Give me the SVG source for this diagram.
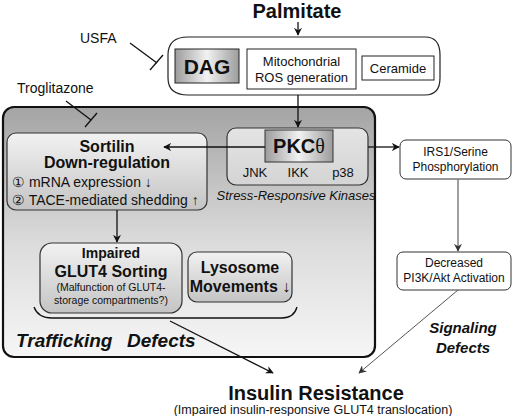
<svg xmlns="http://www.w3.org/2000/svg" width="520" height="416" viewBox="0 0 520 416">
<defs>
<linearGradient id="bigG" x1="0" y1="0" x2="0" y2="1"><stop offset="0" stop-color="#a4a4a4"/><stop offset="0.55" stop-color="#dcdcdc"/><stop offset="1" stop-color="#f6f6f6"/></linearGradient>
<linearGradient id="boxG" x1="0" y1="0" x2="0" y2="1"><stop offset="0" stop-color="#f2f2f2"/><stop offset="1" stop-color="#c4c4c4"/></linearGradient>
<linearGradient id="darkG" x1="0" y1="0" x2="1" y2="0"><stop offset="0" stop-color="#9c9c9c"/><stop offset="0.5" stop-color="#f2f2f2"/><stop offset="1" stop-color="#9c9c9c"/></linearGradient>
<linearGradient id="kinG" x1="0" y1="0" x2="0" y2="1"><stop offset="0" stop-color="#e4e4e4"/><stop offset="1" stop-color="#d4d4d4"/></linearGradient>
<marker id="ah" viewBox="0 0 10 10" refX="9" refY="5" markerWidth="8" markerHeight="8" orient="auto" markerUnits="userSpaceOnUse"><path d="M0,0 L10,5 L0,10 L3,5 z" fill="#111"/></marker>
<marker id="ahg" viewBox="0 0 10 10" refX="9" refY="5" markerWidth="8" markerHeight="8" orient="auto" markerUnits="userSpaceOnUse"><path d="M0,0 L10,5 L0,10 L3,5 z" fill="#333"/></marker>
</defs>
<style>
text{font-family:"Liberation Sans",Arial,sans-serif;fill:#111}
.b{font-weight:bold}
.bi{font-weight:bold;font-style:italic}
.s{font-size:13px}
.m{font-size:12px}
.ln{stroke:#111;stroke-width:1.3;fill:none}
.gl{stroke:#555;stroke-width:1;fill:none}
</style>
<rect width="520" height="416" fill="#fff"/>

<g id="palmitate"><text x="297" y="18" text-anchor="middle" class="b" font-size="20">Palmitate</text></g>

<g id="lipids">
<path d="M188,37 H425 Q440,37 440,55 V78 Q440,95 425,95 H188 Q168,95 168,78 V55 Q168,37 188,37 Z" fill="#fff" stroke="#222" stroke-width="1.2"/>
<g id="dag"><rect x="175" y="49" width="64" height="34" fill="url(#darkG)" stroke="#222" stroke-width="1"/><text x="207" y="74" text-anchor="middle" class="b" font-size="21">DAG</text></g>
<g id="ros"><rect x="247" y="49" width="109" height="40" fill="#fff" stroke="#222" stroke-width="1"/><text x="301.5" y="66" text-anchor="middle" class="s">Mitochondrial</text><text x="301.5" y="82" text-anchor="middle" class="s">ROS generation</text></g>
<g id="ceramide"><rect x="362" y="56" width="72" height="24" fill="#fff" stroke="#222" stroke-width="1"/><text x="398" y="73" text-anchor="middle" class="s">Ceramide</text></g>
</g>

<g id="usfa"><text x="80" y="43" font-size="14">USFA</text></g>
<g id="troglitazone"><text x="17" y="93" font-size="14">Troglitazone</text></g>

<g id="trafficking">
<rect x="3" y="107" width="372" height="250" rx="11" fill="url(#bigG)" stroke="#111" stroke-width="2.2"/>
<text y="347" class="bi" font-size="19"><tspan x="16">Trafficking</tspan><tspan x="127">Defects</tspan></text>
</g>

<g id="sortilin">
<rect x="7" y="133" width="200" height="77" rx="9" fill="url(#boxG)" stroke="#333" stroke-width="1.2"/>
<text x="107" y="152" text-anchor="middle" class="b" font-size="16">Sortilin</text>
<text x="107" y="168" text-anchor="middle" class="b" font-size="16">Down-regulation</text>
<text x="12" y="187" font-size="14">① mRNA expression ↓</text>
<text x="12" y="205" font-size="14">② TACE-mediated  shedding ↑</text>
</g>

<g id="kinases">
<rect x="227" y="128" width="141" height="57" rx="9" fill="url(#kinG)" stroke="#333" stroke-width="1.2"/>
<text x="255" y="177" text-anchor="middle" class="s">JNK</text>
<text x="298" y="177" text-anchor="middle" class="s">IKK</text>
<text x="343" y="177" text-anchor="middle" class="s">p38</text>
<text x="296" y="200" text-anchor="middle" class="s" font-style="italic">Stress-Responsive Kinases</text>
</g>
<g id="pkc">
<rect x="265" y="130" width="68" height="32" fill="url(#darkG)" stroke="#333" stroke-width="1"/>
<text x="299" y="153" text-anchor="middle" font-size="20"><tspan class="b">PKC</tspan><tspan font-family="'Liberation Serif',serif">θ</tspan></text>
</g>

<g id="glut4">
<rect x="40" y="243" width="142" height="70" rx="12" fill="url(#boxG)" stroke="#333" stroke-width="1.2"/>
<text x="111" y="258" text-anchor="middle" class="b" font-size="14">Impaired</text>
<text x="111" y="277" text-anchor="middle" class="b" font-size="16">GLUT4 Sorting</text>
<text x="111" y="291" text-anchor="middle" font-size="10.5">(Malfunction of GLUT4-</text>
<text x="111" y="304" text-anchor="middle" font-size="10.5">storage compartments?)</text>
</g>
<g id="lysosome">
<rect x="188" y="252" width="104" height="50" rx="9" fill="url(#boxG)" stroke="#333" stroke-width="1.2"/>
<text x="240" y="273" text-anchor="middle" class="b" font-size="16">Lysosome</text>
<text x="240" y="292" text-anchor="middle" class="b" font-size="16">Movements ↓</text>
</g>

<g id="irs1">
<rect x="400" y="140" width="111" height="39" rx="6" fill="#fff" stroke="#333" stroke-width="1"/>
<text x="455.5" y="156" text-anchor="middle" class="m">IRS1/Serine</text>
<text x="455.5" y="171" text-anchor="middle" class="m">Phosphorylation</text>
</g>
<g id="pi3k">
<rect x="397" y="252" width="114" height="38" rx="6" fill="#fff" stroke="#333" stroke-width="1"/>
<text x="454" y="267" text-anchor="middle" class="m">Decreased</text>
<text x="454" y="282" text-anchor="middle" class="m">PI3K/Akt Activation</text>
</g>

<g id="signaling"><text x="463" y="333" text-anchor="middle" class="bi" font-size="15">Signaling</text><text x="463" y="353" text-anchor="middle" class="bi" font-size="15">Defects</text></g>

<g id="insulin">
<text x="316" y="400" text-anchor="middle" class="b" font-size="20">Insulin Resistance</text>
<text x="313" y="414" text-anchor="middle" font-size="12.5">(Impaired insulin-responsive GLUT4 translocation)</text>
</g>

<g id="connectors">
<line x1="298" y1="22" x2="298" y2="35" class="ln" marker-end="url(#ah)"/>
<line x1="298" y1="95" x2="298" y2="127" class="ln" marker-end="url(#ah)"/>
<line x1="265" y1="147" x2="164" y2="147" class="ln" marker-end="url(#ah)"/>
<line x1="368" y1="147" x2="399" y2="147" class="ln" marker-end="url(#ah)"/>
<line x1="117" y1="210" x2="117" y2="242" class="ln" marker-end="url(#ah)"/>
<line x1="458" y1="179" x2="458" y2="251" stroke="#777" stroke-width="1.4" marker-end="url(#ahg)"/>
<line x1="458" y1="290" x2="359" y2="373" class="gl" marker-end="url(#ahg)"/>
<path d="M34,307 Q38,318 52,318 H282 Q294,318 297,307" class="ln"/>
<line x1="170" y1="321" x2="273" y2="373" class="ln" marker-end="url(#ah)"/>
<line x1="130" y1="43" x2="157" y2="63" class="ln" stroke-width="1"/>
<line x1="150" y1="70" x2="163" y2="55" class="ln" stroke-width="1"/>
<line x1="66" y1="101" x2="91" y2="120" class="ln" stroke-width="1"/>
<line x1="85" y1="127" x2="97" y2="113" class="ln" stroke-width="1"/>
</g>
</svg>
